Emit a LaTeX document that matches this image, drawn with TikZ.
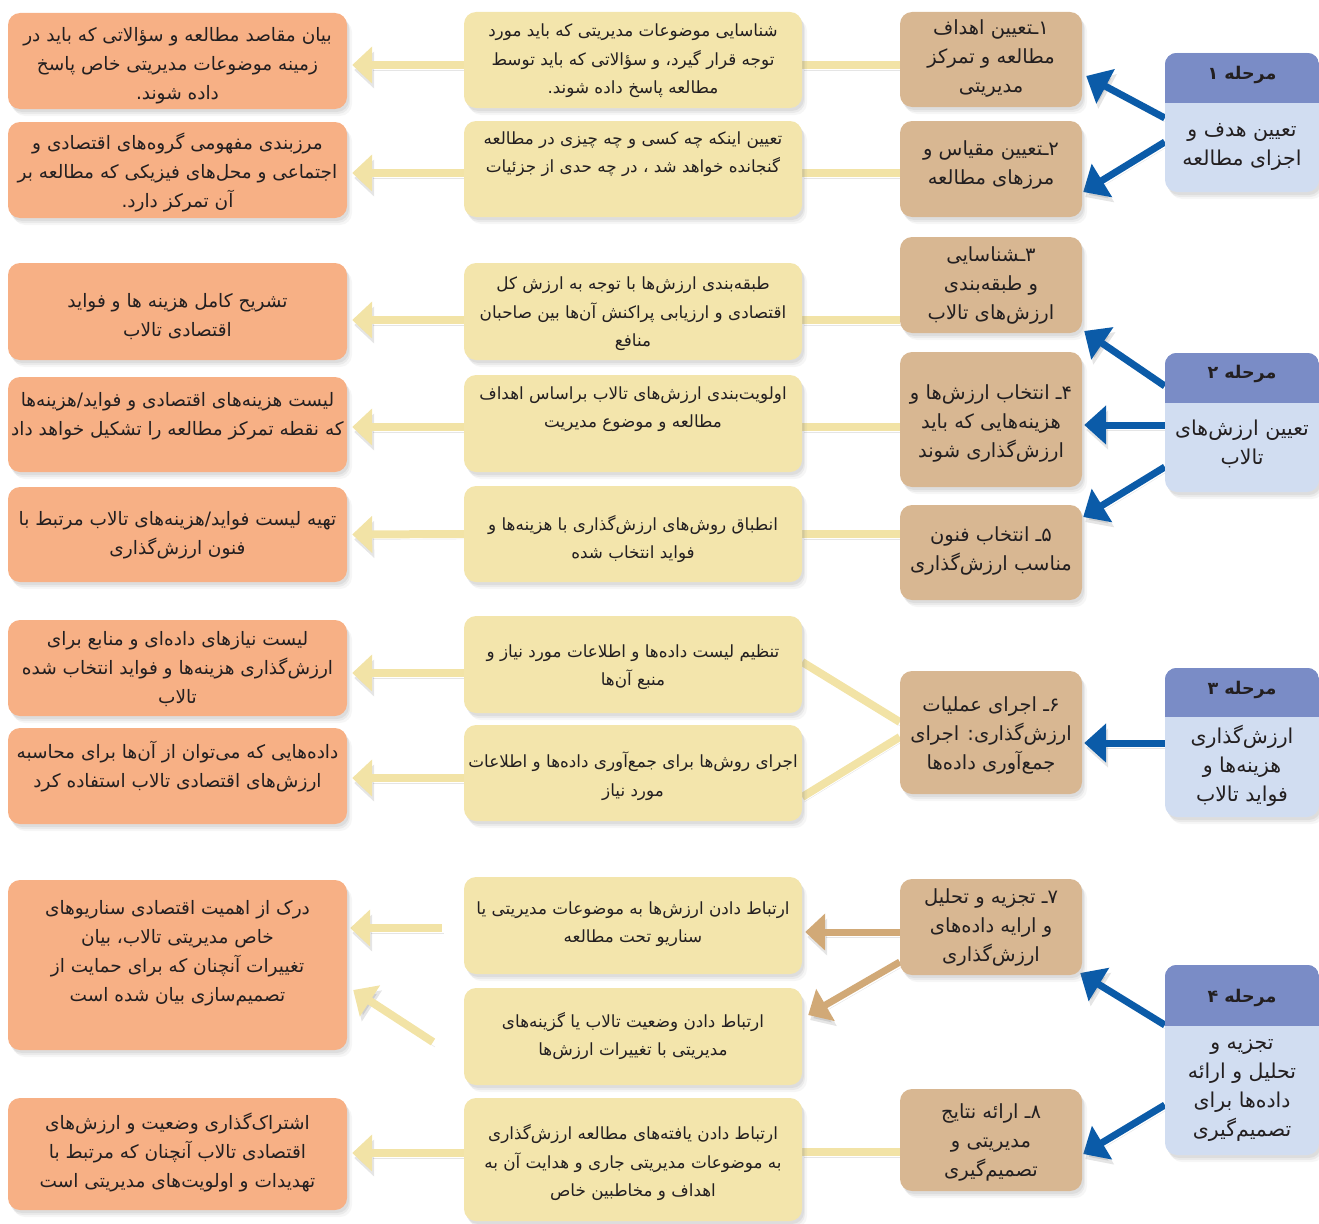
\documentclass[tikz,border=0pt]{standalone}
\usepackage{fontspec}
\newfontfamily\fafont[Script=Arabic]{DejaVu Sans}
\TeXXeTstate=1
\usetikzlibrary{arrows.meta,shadows,backgrounds}

\definecolor{orangeF}{HTML}{F7B085}
\definecolor{yellowF}{HTML}{F3E5AC}
\definecolor{tanF}{HTML}{D8B792}
\definecolor{stageHead}{HTML}{7A8CC6}
\definecolor{stageBody}{HTML}{D1DDF1}
\definecolor{blueA}{HTML}{0B5BA8}
\definecolor{yLine}{HTML}{F2E3A6}
\definecolor{tanA}{HTML}{D1A977}
\definecolor{ink}{HTML}{231F20}

% one right-to-left line of Persian text
\newcommand\fa[1]{\beginR #1\endR}

\tikzset{
  box/.style={rounded corners=12pt, inner sep=0pt,
    drop shadow={shadow xshift=5pt, shadow yshift=-7pt, opacity=0.07},
    drop shadow={shadow xshift=3pt, shadow yshift=-5pt, opacity=0.10},
    drop shadow={shadow xshift=2pt, shadow yshift=-3pt, opacity=0.12}},
  obox/.style={box, fill=orangeF, minimum width=339pt},
  ybox/.style={box, fill=yellowF, minimum width=338pt},
  tbox/.style={box, fill=tanF, minimum width=182pt},
  sbox/.style={box, fill=stageBody, minimum width=154pt},
  txt/.style={align=center, text=ink, inner sep=0pt},
  otext/.style={txt, font=\fafont\fontsize{18.5}{29}\selectfont},
  ytext/.style={txt, font=\fafont\fontsize{16.8}{28.5}\selectfont},
  ttext/.style={txt, font=\fafont\fontsize{19.5}{29}\selectfont},
  stext/.style={txt, font=\fafont\fontsize{20.5}{29}\selectfont},
  htext/.style={txt, font=\fafont\bfseries\fontsize{17.5}{19}\selectfont},
  lineshadow/.style={preaction={draw=black, draw opacity=0.10, fill opacity=0.10,
    transform canvas={shift={(2pt,-5pt)}}}},
  blink/.style={draw=blueA, line width=7pt, lineshadow,
    -{Triangle[length=22pt, width=38pt]}},
  ylink/.style={draw=yLine, line width=8pt, lineshadow},
  yarrow/.style={ylink, -{Triangle[length=20pt, width=36pt]}},
  tarrow/.style={draw=tanA, line width=7pt, lineshadow,
    -{Triangle[length=20pt, width=36pt]}},
}

\begin{document}
\begin{tikzpicture}[x=1pt, y=-1pt]
\useasboundingbox (0,0) rectangle (1319,1223);

% ---------------- stage boxes ----------------
\node[sbox, minimum height=139pt] (s1) at (1242,122.5) {};
\node[sbox, minimum height=139pt] (s2) at (1242,422.5) {};
\node[sbox, minimum height=149pt] (s3) at (1242,742.5) {};
\node[sbox, minimum height=190pt] (s4) at (1242,1060) {};
\foreach \s/\h in {s1/50, s2/50, s3/49, s4/61}{
  \begin{scope}
    \clip[rounded corners=12pt] (\s.north west) rectangle (\s.south east);
    \fill[stageHead] (\s.north west) rectangle ([yshift=-\h pt]\s.north east);
  \end{scope}
}
\node[htext] (s1h) at (1242,75) {\fa{مرحله ۱}};
\node[htext] (s2h) at (1242,374) {\fa{مرحله ۲}};
\node[htext] (s3h) at (1242,690) {\fa{مرحله ۳}};
\node[htext] (s4h) at (1242,998) {\fa{مرحله ۴}};
\node[stext] (s1t) at (1242,147) {\fa{تعیین هدف و}\\\fa{اجزای مطالعه}};
\node[stext] (s2t) at (1242,444) {\fa{تعیین ارزش^^^^200cهای}\\\fa{تالاب}};
\node[stext] (s3t) at (1242,766) {\fa{ارزش^^^^200cگذاری}\\\fa{هزینه^^^^200cها و}\\\fa{فواید تالاب}};
\node[stext] (s4t) at (1242,1090) {\fa{تجزیه و}\\\fa{تحلیل و ارائه}\\\fa{داده^^^^200cها برای}\\\fa{تصمیم^^^^200cگیری}};

% ---------------- step boxes ----------------
\node[tbox, minimum height=95pt]  (t1) at (991,59.5) {};
\node[tbox, minimum height=96pt]  (t2) at (991,169) {};
\node[tbox, minimum height=96pt]  (t3) at (991,285) {};
\node[tbox, minimum height=135pt] (t4) at (991,419.5) {};
\node[tbox, minimum height=95pt]  (t5) at (991,552.5) {};
\node[tbox, minimum height=123pt] (t6) at (991,732.5) {};
\node[tbox, minimum height=96pt]  (t7) at (991,927) {};
\node[tbox, minimum height=102pt] (t8) at (991,1140) {};
\node[ttext] (t1t) at (991,58) {\fa{۱ـتعیین اهداف}\\\fa{مطالعه و تمرکز}\\\fa{مدیریتی}};
\node[ttext] (t2t) at (991,165) {\fa{۲ـتعیین مقیاس و}\\\fa{مرزهای مطالعه}};
\node[ttext] (t3t) at (991,285) {\fa{۳ـشناسایی}\\\fa{و طبقه^^^^200cبندی}\\\fa{ارزش^^^^200cهای تالاب}};
\node[ttext] (t4t) at (991,423) {\fa{۴ـ انتخاب ارزش^^^^200cها و}\\\fa{هزینه^^^^200cهایی که باید}\\\fa{ارزش^^^^200cگذاری شوند}};
\node[ttext] (t5t) at (991,551) {\fa{۵ـ انتخاب فنون}\\\fa{مناسب ارزش^^^^200cگذاری}};
\node[ttext] (t6t) at (991,735) {\fa{۶ـ اجرای عملیات}\\\fa{ارزش^^^^200cگذاری: اجرای}\\\fa{جمع^^^^200cآوری داده^^^^200cها}};
\node[ttext] (t7t) at (991,927) {\fa{۷ـ تجزیه و تحلیل}\\\fa{و ارایه داده^^^^200cهای}\\\fa{ارزش^^^^200cگذاری}};
\node[ttext] (t8t) at (991,1142) {\fa{۸ـ ارائه نتایج}\\\fa{مدیریتی و}\\\fa{تصمیم^^^^200cگیری}};

% ---------------- task boxes ----------------
\node[ybox, minimum height=96pt]  (y1) at (633,60) {};
\node[ybox, minimum height=96pt]  (y2) at (633,169) {};
\node[ybox, minimum height=97pt]  (y3) at (633,311.5) {};
\node[ybox, minimum height=97pt]  (y4) at (633,423.5) {};
\node[ybox, minimum height=96pt]  (y5) at (633,534) {};
\node[ybox, minimum height=97pt]  (y6) at (633,664.5) {};
\node[ybox, minimum height=96pt]  (y7) at (633,773) {};
\node[ybox, minimum height=97pt]  (y8) at (633,925.5) {};
\node[ybox, minimum height=97pt]  (y9) at (633,1036.5) {};
\node[ybox, minimum height=123pt] (y10) at (633,1159.5) {};
\node[ytext] (y1t) at (633,61) {\fa{شناسایی موضوعات مدیریتی که باید مورد}\\\fa{توجه قرار گیرد، و سؤالاتی که باید توسط}\\\fa{مطالعه پاسخ داده شوند.}};
\node[ytext] (y2t) at (633,154) {\fa{تعیین اینکه چه کسی و چه چیزی در مطالعه}\\\fa{گنجانده خواهد شد ، در چه حدی از جزئیات}};
\node[ytext] (y3t) at (633,314) {\fa{طبقه^^^^200cبندی ارزش^^^^200cها با توجه به ارزش کل}\\\fa{اقتصادی و ارزیابی پراکنش آن^^^^200cها بین صاحبان}\\\fa{منافع}};
\node[ytext] (y4t) at (633,409) {\fa{اولویت^^^^200cبندی ارزش^^^^200cهای تالاب براساس اهداف}\\\fa{مطالعه و موضوع مدیریت}};
\node[ytext] (y5t) at (633,539) {\fa{انطباق روش^^^^200cهای ارزش^^^^200cگذاری با هزینه^^^^200cها و}\\\fa{فواید انتخاب شده}};
\node[ytext] (y6t) at (633,667) {\fa{تنظیم لیست داده^^^^200cها و اطلاعات مورد نیاز و}\\\fa{منبع آن^^^^200cها}};
\node[ytext] (y7t) at (633,776) {\fa{اجرای روش^^^^200cها برای جمع^^^^200cآوری داده^^^^200cها و اطلاعات}\\\fa{مورد نیاز}};
\node[ytext] (y8t) at (633,924) {\fa{ارتباط دادن ارزش^^^^200cها به موضوعات مدیریتی یا}\\\fa{سناریو تحت مطالعه}};
\node[ytext] (y9t) at (633,1036) {\fa{ارتباط دادن وضعیت تالاب یا گزینه^^^^200cهای}\\\fa{مدیریتی با تغییرات ارزش^^^^200cها}};
\node[ytext] (y10t) at (633,1163) {\fa{ارتباط دادن یافته^^^^200cهای مطالعه ارزش^^^^200cگذاری}\\\fa{به موضوعات مدیریتی جاری و هدایت آن به}\\\fa{اهداف و مخاطبین خاص}};

% ---------------- outcome boxes ----------------
\node[obox, minimum height=96pt]  (o1) at (177.5,61) {};
\node[obox, minimum height=96pt]  (o2) at (177.5,170) {};
\node[obox, minimum height=97pt]  (o3) at (177.5,311.5) {};
\node[obox, minimum height=95pt]  (o4) at (177.5,424.5) {};
\node[obox, minimum height=95pt]  (o5) at (177.5,534.5) {};
\node[obox, minimum height=96pt]  (o6) at (177.5,668) {};
\node[obox, minimum height=96pt]  (o7) at (177.5,776) {};
\node[obox, minimum height=170pt] (o8) at (177.5,965) {};
\node[obox, minimum height=112pt] (o9) at (177.5,1154) {};
\node[otext] (o1t) at (177.5,66) {\fa{بیان مقاصد مطالعه و سؤالاتی که باید در}\\\fa{زمینه موضوعات مدیریتی خاص پاسخ}\\\fa{داده شوند.}};
\node[otext] (o2t) at (177.5,172) {\fa{مرزبندی مفهومی گروه^^^^200cهای اقتصادی و}\\\fa{اجتماعی و محل^^^^200cهای فیزیکی که مطالعه بر}\\\fa{آن تمرکز دارد.}};
\node[otext] (o3t) at (177.5,317) {\fa{تشریح کامل هزینه ها و فواید}\\\fa{اقتصادی تالاب}};
\node[otext] (o4t) at (177.5,416) {\fa{لیست هزینه^^^^200cهای اقتصادی و فواید/هزینه^^^^200cها}\\\fa{که نقطه تمرکز مطالعه را تشکیل خواهد داد}};
\node[otext] (o5t) at (177.5,535) {\fa{تهیه لیست فواید/هزینه^^^^200cهای تالاب مرتبط با}\\\fa{فنون ارزش^^^^200cگذاری}};
\node[otext] (o6t) at (177.5,669) {\fa{لیست نیازهای داده^^^^200cای و منابع برای}\\\fa{ارزش^^^^200cگذاری هزینه^^^^200cها و فواید انتخاب شده}\\\fa{تالاب}};
\node[otext] (o7t) at (177.5,767) {\fa{داده^^^^200cهایی که می^^^^200cتوان از آن^^^^200cها برای محاسبه}\\\fa{ارزش^^^^200cهای اقتصادی تالاب استفاده کرد}};
\node[otext] (o8t) at (177.5,953) {\fa{درک از اهمیت اقتصادی سناریوهای}\\\fa{خاص مدیریتی تالاب، بیان}\\\fa{تغییرات آنچنان که برای حمایت از}\\\fa{تصمیم^^^^200cسازی بیان شده است}};
\node[otext] (o9t) at (177.5,1152) {\fa{اشتراک^^^^200cگذاری وضعیت و ارزش^^^^200cهای}\\\fa{اقتصادی تالاب آنچنان که مرتبط با}\\\fa{تهدیدات و اولویت^^^^200cهای مدیریتی است}};

% free tails of the two arrows into the scenario box
\coordinate (c1) at (442,928);
\coordinate (c2) at (433,1042);

% ---------------- connectors ----------------
\begin{scope}[on background layer]
  % stages to steps
  \draw[blink] ([yshift=4.5pt]s1.west)   -- ([xshift=4pt,yshift=-16.5pt]t1.east);
  \draw[blink] ([yshift=-19.5pt]s1.west) -- ([xshift=1pt,yshift=-23pt]t2.east);
  \draw[blink] ([yshift=36.5pt]s2.west)  -- ([xshift=2pt,yshift=-46pt]t3.east);
  \draw[blink] ([yshift=-2.5pt]s2.west)  -- ([xshift=2pt,yshift=-5.5pt]t4.east);
  \draw[blink] ([yshift=-44.5pt]s2.west) -- ([xshift=1pt,yshift=35.5pt]t5.east);
  \draw[blink] ([yshift=-0.5pt]s3.west)  -- ([xshift=2pt,yshift=-10.5pt]t6.east);
  \draw[blink] ([yshift=35pt]s4.west)    -- ([xshift=-2pt,yshift=-46pt]t7.east);
  \draw[blink] ([yshift=-45pt]s4.west)   -- ([xshift=1pt,yshift=-14pt]t8.east);

  % steps to tasks
  \draw[ylink] ([yshift=-5.5pt]t1.west) -- ([yshift=-5pt]y1.east);
  \draw[ylink] ([yshift=-4pt]t2.west)   -- ([yshift=-4pt]y2.east);
  \draw[ylink] ([yshift=-35pt]t3.west)  -- ([yshift=-8.5pt]y3.east);
  \draw[ylink] ([yshift=-7.5pt]t4.west) -- ([yshift=-3.5pt]y4.east);
  \draw[ylink] ([yshift=18.5pt]t5.west) -- (y5.east);
  \draw[ylink] ([yshift=10.5pt]t6.west) -- ([yshift=2.5pt]y6.east);
  \draw[ylink] ([yshift=-4.5pt]t6.west) -- ([yshift=-24pt]y7.east);
  \draw[tarrow] ([yshift=-5pt]t7.west)  -- ([xshift=3pt,yshift=-6.5pt]y8.east);
  \draw[tarrow] ([yshift=-35pt]t7.west) -- ([xshift=6pt,yshift=21.5pt]y9.east);
  \draw[ylink] ([yshift=-12pt]t8.west)  -- ([yshift=7.5pt]y10.east);

  % tasks to outcomes
  \draw[yarrow] ([yshift=-5pt]y1.west)   -- ([xshift=5pt,yshift=-4pt]o1.east);
  \draw[yarrow] ([yshift=-4pt]y2.west)   -- ([xshift=5pt,yshift=-3pt]o2.east);
  \draw[yarrow] ([yshift=-8.5pt]y3.west) -- ([xshift=5pt,yshift=-8.5pt]o3.east);
  \draw[yarrow] ([yshift=-3.5pt]y4.west) -- ([xshift=5pt,yshift=-2.5pt]o4.east);
  \draw[yarrow] (y5.west)                -- ([xshift=5pt]o5.east);
  \draw[yarrow] ([yshift=-8.5pt]y6.west) -- ([xshift=5pt,yshift=-5pt]o6.east);
  \draw[yarrow] ([yshift=-5pt]y7.west)   -- ([xshift=5pt,yshift=-2pt]o7.east);
  \draw[yarrow] (c1) -- ([xshift=3pt,yshift=37pt]o8.east);
  \draw[yarrow] (c2) -- ([xshift=6pt,yshift=-25pt]o8.east);
  \draw[yarrow] ([yshift=6.5pt]y10.west) -- ([xshift=5pt,yshift=1pt]o9.east);
\end{scope}
\end{tikzpicture}
\end{document}
